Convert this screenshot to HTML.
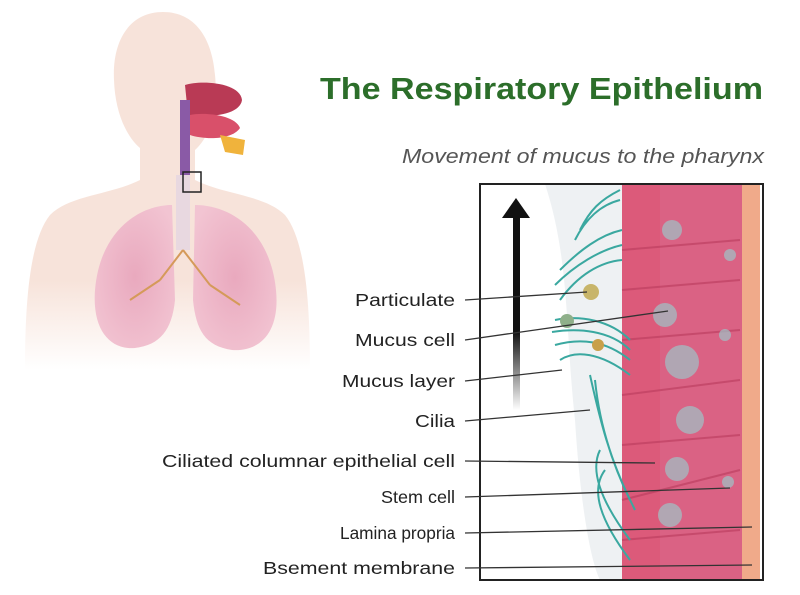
<!DOCTYPE html>
<html><head><style>
html,body{margin:0;padding:0;background:#fff;}
svg{display:block;}
text{font-family:"Liberation Sans",sans-serif;}
</style></head><body>
<svg width="800" height="595" viewBox="0 0 800 595" xmlns="http://www.w3.org/2000/svg">
<defs>
<linearGradient id="bodyfade" x1="0" y1="0" x2="0" y2="1">
<stop offset="0.75" stop-color="#f7e3da"/><stop offset="1" stop-color="#fff"/>
</linearGradient>
<linearGradient id="arr" x1="0" y1="0" x2="0" y2="1">
<stop offset="0.6" stop-color="#111"/><stop offset="1" stop-color="#fff"/>
</linearGradient>
<radialGradient id="lung" cx="0.5" cy="0.5" r="0.6">
<stop offset="0" stop-color="#e9a9be"/><stop offset="1" stop-color="#f2c4d2"/>
</radialGradient>
</defs>
<path d="M163 12 C130 12 112 40 114 80 C115 110 125 135 140 148 L140 180 C110 195 70 195 50 215 C30 240 25 300 25 370 L310 370 C310 300 305 240 285 215 C265 195 225 195 195 180 L195 150 C212 135 218 105 215 75 C212 38 195 12 163 12 Z" fill="url(#bodyfade)"/>
<path d="M185 85 C200 80 240 82 242 100 C240 115 210 118 188 115 Z" fill="#b93a55"/>
<path d="M190 115 C205 112 235 115 240 128 C232 140 205 140 190 135 Z" fill="#d9506a"/>
<path d="M220 135 L245 140 L243 155 L225 152 Z" fill="#f0b33c"/>
<rect x="180" y="100" width="10" height="80" fill="#8a5aa6"/>
<rect x="176" y="175" width="14" height="75" fill="#e8d8e0"/>
<rect x="183" y="172" width="18" height="20" fill="none" stroke="#222" stroke-width="1.5"/>
<path d="M172 205 C140 205 100 230 95 290 C92 330 110 350 135 348 C160 345 172 330 175 300 Z" fill="url(#lung)"/>
<path d="M195 205 C230 205 270 230 276 290 C280 330 262 352 232 350 C205 346 196 330 193 300 Z" fill="url(#lung)"/>
<path d="M183 250 L160 280 M183 250 L210 285 M160 280 L130 300 M210 285 L240 305" stroke="#d59a5a" stroke-width="2" fill="none"/>
<text x="320" y="99" font-size="31" font-weight="bold" fill="#2c6e2a" textLength="443" lengthAdjust="spacingAndGlyphs">The Respiratory Epithelium</text>
<text x="402" y="163" font-size="20" font-style="italic" fill="#555" textLength="362" lengthAdjust="spacingAndGlyphs">Movement of mucus to the pharynx</text>
<rect x="480" y="184" width="283" height="396" fill="#fff"/>
<path d="M545 184 C570 260 565 330 575 420 C580 500 590 560 600 580 L622 580 L622 184 Z" fill="#eef1f3"/>
<rect x="622" y="184" width="120" height="396" fill="#dc5a7a"/>
<rect x="660" y="184" width="82" height="396" fill="#d9688a" opacity="0.6"/>
<g stroke="#b93a5c" stroke-width="2" fill="none" opacity="0.6">
<path d="M622 250 L740 240 M622 290 L740 280 M622 340 L740 330 M622 395 L740 380 M622 445 L740 435 M622 500 L740 470 M622 540 L740 530"/>
</g>
<g fill="#9fc4c8" opacity="0.7">
<circle cx="672" cy="230" r="10"/><circle cx="665" cy="315" r="12"/><circle cx="682" cy="362" r="17"/>
<circle cx="690" cy="420" r="14"/><circle cx="677" cy="469" r="12"/><circle cx="728" cy="482" r="6"/>
<circle cx="670" cy="515" r="12"/><circle cx="725" cy="335" r="6"/><circle cx="730" cy="255" r="6"/>
</g>
<rect x="742" y="184" width="18" height="396" fill="#f0aa8a"/>
<g stroke="#3aa8a0" stroke-width="2" fill="none">
<path d="M620 190 C600 200 590 210 580 230 M620 200 C600 205 585 220 575 240 M622 230 C600 235 580 250 560 270 M622 245 C600 250 575 265 555 285 M622 260 C600 262 578 275 560 300"/>
<path d="M630 340 C610 320 580 315 555 320 M630 350 C610 330 578 328 552 332 M630 360 C605 340 580 338 555 345 M630 375 C600 352 575 350 560 360"/>
<path d="M630 500 C610 460 600 420 590 375 M635 510 C615 470 600 430 595 380 M630 540 C600 500 590 470 600 450 M630 560 C600 520 590 490 605 470"/>
</g>
<circle cx="591" cy="292" r="8" fill="#c8b56a"/>
<circle cx="567" cy="321" r="7" fill="#8fb08a"/>
<circle cx="598" cy="345" r="6" fill="#c8a04a"/>
<rect x="513" y="215" width="7" height="195" fill="url(#arr)"/>
<path d="M502 218 L516 198 L530 218 Z" fill="#111"/>
<rect x="480" y="184" width="283" height="396" fill="none" stroke="#222" stroke-width="2"/>
<g font-size="17.5" fill="#222">
<text x="355" y="306" textLength="100" lengthAdjust="spacingAndGlyphs">Particulate</text>
<text x="355" y="346" textLength="100" lengthAdjust="spacingAndGlyphs">Mucus cell</text>
<text x="342" y="387" textLength="113" lengthAdjust="spacingAndGlyphs">Mucus layer</text>
<text x="415" y="427" textLength="40" lengthAdjust="spacingAndGlyphs">Cilia</text>
<text x="162" y="467" textLength="293" lengthAdjust="spacingAndGlyphs">Ciliated columnar epithelial cell</text>
<text x="381" y="503" textLength="74" lengthAdjust="spacingAndGlyphs">Stem cell</text>
<text x="340" y="539" textLength="115" lengthAdjust="spacingAndGlyphs">Lamina propria</text>
<text x="263" y="574" textLength="192" lengthAdjust="spacingAndGlyphs">Bsement membrane</text>
</g>
<g stroke="#333" stroke-width="1.3">
<line x1="465" y1="300" x2="587" y2="292"/>
<line x1="465" y1="340" x2="668" y2="311"/>
<line x1="465" y1="381" x2="562" y2="370"/>
<line x1="465" y1="421" x2="590" y2="410"/>
<line x1="465" y1="461" x2="655" y2="463"/>
<line x1="465" y1="497" x2="730" y2="488"/>
<line x1="465" y1="533" x2="752" y2="527"/>
<line x1="465" y1="568" x2="752" y2="565"/>
</g>
</svg>
</body></html>
